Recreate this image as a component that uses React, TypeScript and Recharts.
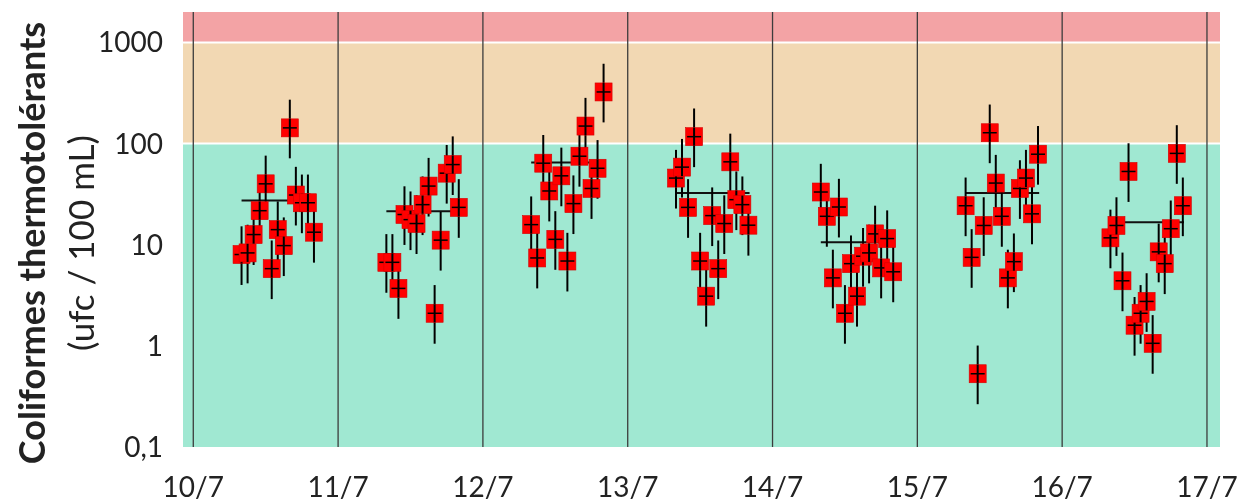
import {
  ComposedChart,
  Scatter,
  XAxis,
  YAxis,
  ReferenceArea,
  ReferenceLine,
  ErrorBar,
} from "recharts";

const DAY_LABELS = ["10/7", "11/7", "12/7", "13/7", "14/7", "15/7", "16/7", "17/7"];
const Y_TICKS = [0.1, 1, 10, 100, 1000];

// hourly samples, 8h to 20h
const SAMPLE_HOURS = [8, 9, 10, 11, 12, 13, 14, 15, 16, 17, 18, 19, 20];

const day10 = [8.0, 8.3, 12.6, 21.7, 40, 5.8, 14.1, 9.8, 143, 31, 26, 26, 13.3];
const day11 = [6.7, 6.7, 3.7, 19.9, 17.7, 16.2, 24.9, 38, 2.1, 11.1, 51, 62, 23.4];
const day12 = [15.8, 7.4, 64, 34, 11.3, 48, 6.9, 25.5, 75, 149, 36, 57, 324];
const day13 = [45.6, 58.5, 23.4, 117, 6.9, 3.1, 19.4, 5.8, 16.2, 66, 27.9, 24.9, 15.6];
const day14 = [33.2, 19.1, 4.7, 23.6, 2.1, 6.5, 3.1, 7.7, 8.3, 12.8, 5.9, 11.5, 5.4];
const day15 = [24.3, 7.5, 0.53, 15.5, 128, 40.7, 19.1, 4.7, 6.8, 36, 45.6, 20.2, 78.5];
const day16 = [11.7, 15.5, 4.4, 53, 1.6, 2.1, 2.75, 1.06, 8.5, 6.5, 14.4, 80, 24.3];

const DAILY_COUNTS = [day10, day11, day12, day13, day14, day15, day16];
const DAILY_MEANS = [27.4, 21.4, 65, 32.5, 10.6, 32.5, 16.7];

// relative uncertainty of the count
const ERR_UP = 1.9;
const ERR_DOWN = 0.5;

const points = DAILY_COUNTS.flatMap((vals, d) =>
  vals.map((v, i) => ({
    t: d + SAMPLE_HOURS[i] / 24,
    v,
    err: [v * (1 - ERR_DOWN), v * (ERR_UP - 1)],
  }))
);

const FONT = "Lato, 'Open Sans', sans-serif";

const SquareMark = (props: any) => {
  const { cx, cy } = props;
  if (cx == null || cy == null) return null;
  return (
    <g>
      <rect x={cx - 8.5} y={cy - 9} width={17} height={18} fill="#ff0000" stroke="#d40000" strokeWidth={0.6} />
      <line x1={cx} x2={cx} y1={cy - 9} y2={cy + 9} stroke="#000" strokeWidth={2} />
      <line x1={cx - 7} x2={cx + 7} y1={cy} y2={cy} stroke="#000" strokeWidth={1.5} />
    </g>
  );
};

const AxisTitle = () => (
  <g fill="#222" fontFamily={FONT}>
    <text transform="translate(31,243) rotate(-90)" textAnchor="middle" dominantBaseline="central" fontSize={36} fontWeight={700}>
      Coliformes thermotolérants
    </text>
    <text transform="translate(80,243) rotate(-90)" textAnchor="middle" dominantBaseline="central" fontSize={35}>
      (ufc / 100 mL)
    </text>
  </g>
);

export default function App() {
  return (
    <div style={{ position: "fixed", left: 0, top: 0 }}>
      <ComposedChart
        width={1242}
        height={504}
        margin={{ top: 12, right: 22, bottom: 7, left: 0 }}
        style={{ fontFamily: FONT }}
      >
        <XAxis
          type="number"
          dataKey="t"
          domain={[-0.071, 7.09]}
          ticks={[0, 1, 2, 3, 4, 5, 6, 7]}
          tickFormatter={(d: number) => DAY_LABELS[d]}
          axisLine={false}
          tickLine={false}
          tickSize={0}
          tickMargin={30}
          height={50}
          tick={{ fontSize: 28, fill: "#222", fontFamily: FONT }}
          allowDataOverflow
        />
        <YAxis
          type="number"
          dataKey="v"
          scale="log"
          domain={[0.1, 2000]}
          ticks={Y_TICKS}
          tickFormatter={(v: number) => String(v).replace(".", ",")}
          axisLine={false}
          tickLine={false}
          tickSize={0}
          tickMargin={20}
          width={183}
          tick={{ fontSize: 28, fill: "#222", fontFamily: FONT }}
          allowDataOverflow
          label={{ content: () => <AxisTitle /> }}
        />

        <ReferenceArea y1={1000} y2={2000} fill="#f3a3a5" fillOpacity={1} stroke="none" ifOverflow="visible" />
        <ReferenceArea y1={100} y2={1000} fill="#f2d8b3" fillOpacity={1} stroke="none" ifOverflow="visible" />
        <ReferenceArea y1={0.1} y2={100} fill="#a0e8d2" fillOpacity={1} stroke="none" ifOverflow="visible" />
        <ReferenceLine y={1000} stroke="#ffffff" strokeWidth={2} />
        <ReferenceLine y={100} stroke="#ffffff" strokeWidth={2} />

        {DAY_LABELS.map((_, d) => (
          <ReferenceLine key={"day" + d} x={d} stroke="#3c3c3c" strokeWidth={1.3} />
        ))}

        {DAILY_MEANS.map((m, d) => (
          <ReferenceLine
            key={"mean" + d}
            segment={[
              { x: d + SAMPLE_HOURS[0] / 24, y: m },
              { x: d + SAMPLE_HOURS[SAMPLE_HOURS.length - 1] / 24 + 0.008, y: m },
            ]}
            stroke="#111"
            strokeWidth={2}
          />
        ))}

        <Scatter data={points} dataKey="v" shape={SquareMark} isAnimationActive={false}>
          <ErrorBar dataKey="err" direction="y" width={0} stroke="#000" strokeWidth={2} />
        </Scatter>
      </ComposedChart>
    </div>
  );
}
